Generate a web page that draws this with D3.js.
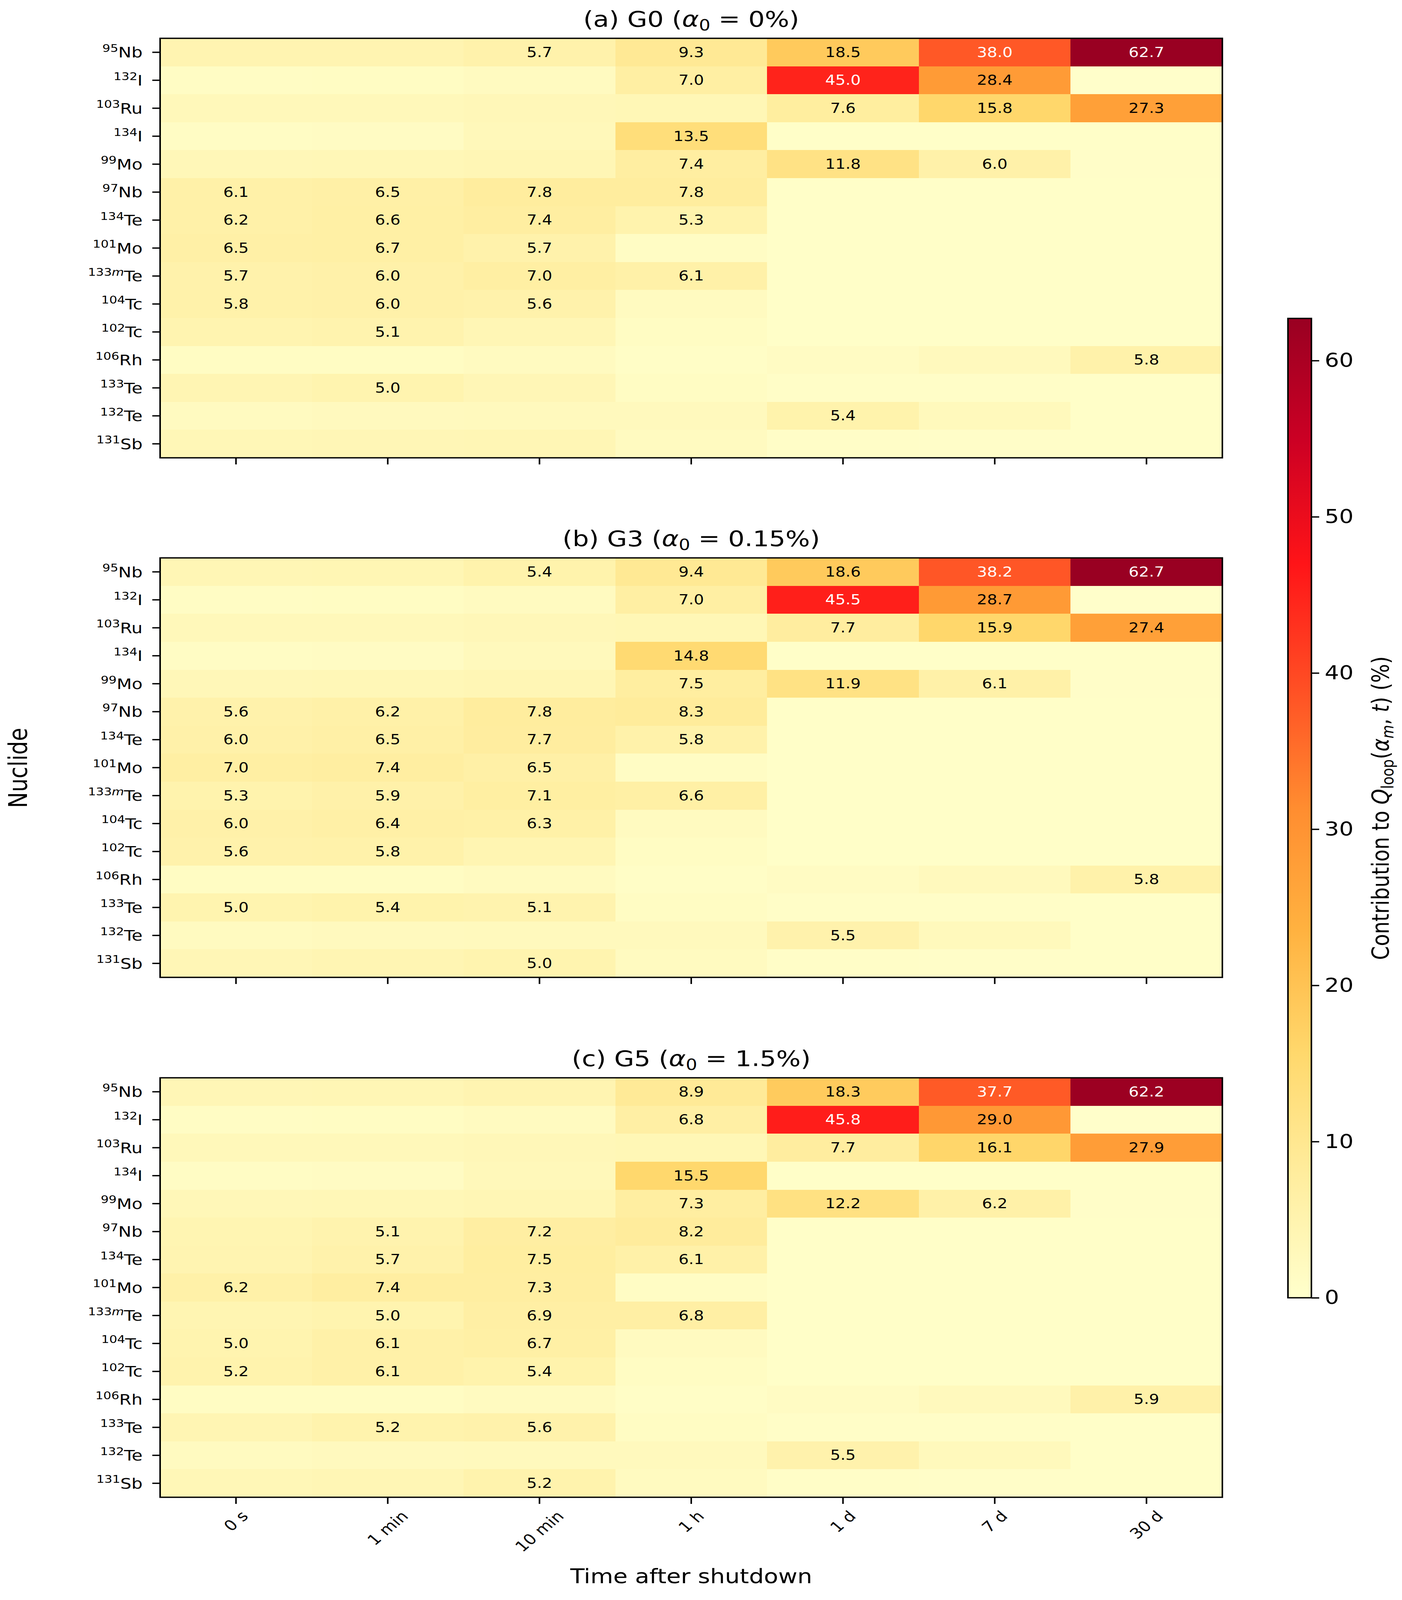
<!DOCTYPE html>
<html>
<head>
<meta charset="utf-8">
<script src="https://cdn.jsdelivr.net/npm/d3@7"></script>
<style>
  html, body { margin: 0; padding: 0; background: #fff; overflow: hidden; }
  svg { display: block; width: 100vw; height: 100vh; }
  text { font-family: 'DejaVu Sans', sans-serif; }
</style>
</head>
<body>
<script>
// chart values ---------------------------------------------------------------
const nuclides = ['95Nb', '132I', '103Ru', '134I', '99Mo', '97Nb', '134Te', '101Mo',
  '133mTe', '104Tc', '102Tc', '106Rh', '133Te', '132Te', '131Sb']
const times = ['0 s', '1 min', '10 min', '1 h', '1 d', '7 d', '30 d']

const valuesG0 = [
  [4.6, 4.6, 5.7, 9.3, 18.5, 38.0, 62.7],
  [1.4, 1.5, 2.0, 7.0, 45.0, 28.4, 0.3],
  [3.0, 3.0, 3.4, 3.7, 7.6, 15.8, 27.3],
  [1.3, 1.6, 3.0, 13.5, 0.6, 0.6, 0.6],
  [3.4, 3.5, 4.0, 7.4, 11.8, 6.0, 0.7],
  [6.1, 6.5, 7.8, 7.8, 0.6, 0.6, 0.6],
  [6.2, 6.6, 7.4, 5.3, 0.6, 0.6, 0.6],
  [6.5, 6.7, 5.7, 1.4, 0.6, 0.6, 0.6],
  [5.7, 6.0, 7.0, 6.1, 0.6, 0.6, 0.6],
  [5.8, 6.0, 5.6, 2.0, 0.6, 0.6, 0.6],
  [4.7, 5.1, 4.0, 1.5, 0.6, 0.6, 0.6],
  [1.5, 1.5, 2.0, 1.0, 1.6, 2.6, 5.8],
  [4.3, 5.0, 3.8, 1.5, 0.8, 0.8, 0.6],
  [2.0, 2.4, 2.6, 2.6, 5.4, 2.8, 0.6],
  [3.6, 3.8, 4.0, 2.0, 0.8, 0.7, 0.6]
]
const valuesG3 = [
  [4.0, 4.1, 5.4, 9.4, 18.6, 38.2, 62.7],
  [1.4, 1.5, 2.0, 7.0, 45.5, 28.7, 0.3],
  [3.0, 3.0, 3.4, 3.7, 7.7, 15.9, 27.4],
  [1.3, 1.6, 2.8, 14.8, 0.6, 0.6, 0.6],
  [3.4, 3.5, 4.0, 7.5, 11.9, 6.1, 0.7],
  [5.6, 6.2, 7.8, 8.3, 0.6, 0.6, 0.6],
  [6.0, 6.5, 7.7, 5.8, 0.6, 0.6, 0.6],
  [7.0, 7.4, 6.5, 1.4, 0.6, 0.6, 0.6],
  [5.3, 5.9, 7.1, 6.6, 0.6, 0.6, 0.6],
  [6.0, 6.4, 6.3, 2.0, 0.6, 0.6, 0.6],
  [5.6, 5.8, 4.4, 1.5, 0.6, 0.6, 0.6],
  [1.5, 1.5, 2.0, 1.0, 1.6, 2.6, 5.8],
  [5.0, 5.4, 5.1, 1.5, 0.8, 0.8, 0.6],
  [2.0, 2.4, 2.6, 2.6, 5.5, 2.8, 0.6],
  [3.8, 4.2, 5.0, 2.0, 0.8, 0.7, 0.6]
]
const valuesG5 = [
  [3.8, 4.0, 4.6, 8.9, 18.3, 37.7, 62.2],
  [1.4, 1.5, 2.0, 6.8, 45.8, 29.0, 0.3],
  [3.0, 3.0, 3.4, 3.7, 7.7, 16.1, 27.9],
  [1.3, 1.6, 3.0, 15.5, 0.6, 0.6, 0.6],
  [3.4, 3.5, 4.0, 7.3, 12.2, 6.2, 0.7],
  [4.5, 5.1, 7.2, 8.2, 0.6, 0.6, 0.6],
  [4.6, 5.7, 7.5, 6.1, 0.6, 0.6, 0.6],
  [6.2, 7.4, 7.3, 1.4, 0.6, 0.6, 0.6],
  [4.4, 5.0, 6.9, 6.8, 0.6, 0.6, 0.6],
  [5.0, 6.1, 6.7, 2.0, 0.6, 0.6, 0.6],
  [5.2, 6.1, 5.4, 1.5, 0.6, 0.6, 0.6],
  [1.5, 1.5, 2.0, 1.0, 1.6, 2.6, 5.9],
  [4.3, 5.2, 5.6, 1.5, 0.8, 0.8, 0.6],
  [2.0, 2.4, 2.6, 2.6, 5.5, 2.8, 0.6],
  [3.6, 4.0, 5.2, 2.0, 0.8, 0.7, 0.6]
]
const panelNames = ['(a) G0', '(b) G3', '(c) G5']
const panelAlpha = ['0%', '0.15%', '1.5%']
const colorbarTicks = [0, 10, 20, 30, 40, 50, 60]

// YlOrRd-like control colours, tuned to the saturation seen in the picture
const ylOrRd = ['#ffffcc', '#ffed9e', '#ffd86c', '#ffb240', '#ff8d30',
  '#ff4e24', '#ff1418', '#cc0024', '#990022']

//-----------------------------------------------------------------------------

// drawn in a 3590x4844 frame, stretched onto whatever viewport the page gets
const width = 3590
const height = 4844
const plotLeft = 410
const plotRight = 3130
const panelTops = [116, 1689, 3263]
const panelHeight = 1270
const tickLen = 20
const lineWidth = 4

const panels = [valuesG0, valuesG3, valuesG5]
const vmax = d3.max(panels.flat(2))

const svg = d3.select('body')
  .append('svg')
  .attr('viewBox', `0 0 ${width} ${height}`)
  .attr('preserveAspectRatio', 'none')
svg.append('rect')
  .attr('width', width)
  .attr('height', height)
  .attr('fill', '#fff')

const x = d3.scaleBand()
  .domain(times)
  .range([plotLeft, plotRight])
const color = d3.scaleLinear()
  .domain(ylOrRd.map((c, i) => i * vmax / (ylOrRd.length - 1)))
  .range(ylOrRd)

function nuclideLabel (text, label) {
  const [, mass, meta, symbol] = label.match(/^(\d+)(m?)(\D+)$/)
  text.append('tspan').attr('font-size', 32).attr('dy', -17).text(mass)
  if (meta) {
    text.append('tspan').attr('font-size', 32).attr('font-style', 'italic').text(meta)
  }
  text.append('tspan').attr('dy', 17).text(symbol)
}

function drawPanel (values, p) {
  const top = panelTops[p]
  const bottom = top + panelHeight
  const y = d3.scaleBand()
    .domain(nuclides)
    .range([top, bottom])
  const cells = nuclides.flatMap((n, i) =>
    times.map((t, j) => ({ n, t, v: values[i][j] })))
  const g = svg.append('g')

  g.selectAll('rect.cell')
    .data(cells)
    .enter()
    .append('rect')
    .attr('class', 'cell')
    .attr('x', d => x(d.t))
    .attr('y', d => y(d.n))
    .attr('width', x.bandwidth())
    .attr('height', y.bandwidth())
    .attr('fill', d => color(d.v))
    .attr('shape-rendering', 'crispEdges')

  g.selectAll('text.val')
    .data(cells.filter(d => d.v >= 4.95))
    .enter()
    .append('text')
    .attr('class', 'val')
    .attr('x', d => x(d.t) + x.bandwidth() / 2)
    .attr('y', d => y(d.n) + y.bandwidth() / 2)
    .attr('text-anchor', 'middle')
    .attr('dominant-baseline', 'central')
    .attr('font-size', 41)
    .attr('fill', d => d.v > vmax / 2 ? '#fff' : '#000')
    .text(d => d.v.toFixed(1))

  g.append('rect')
    .attr('x', plotLeft)
    .attr('y', top)
    .attr('width', plotRight - plotLeft)
    .attr('height', panelHeight)
    .attr('fill', 'none')
    .attr('stroke', '#000')
    .attr('stroke-width', lineWidth)

  const yAxis = g.append('g')
    .attr('transform', `translate(${plotLeft},0)`)
    .call(d3.axisLeft(y).tickSize(tickLen).tickPadding(25))
  yAxis.select('.domain').remove()
  yAxis.selectAll('.tick line').attr('stroke-width', lineWidth)
  yAxis.selectAll('.tick text')
    .text(null)
    .attr('dy', null)
    .attr('y', 16)
    .attr('font-size', 45)
    .attr('fill', '#000')
    .each(function (d) { nuclideLabel(d3.select(this), d) })

  const xAxis = g.append('g')
    .attr('transform', `translate(0,${bottom})`)
    .call(d3.axisBottom(x).tickSize(tickLen).tickFormat(''))
  xAxis.select('.domain').remove()
  xAxis.selectAll('.tick line').attr('stroke-width', lineWidth)
  xAxis.selectAll('.tick text').remove()

  if (p === panels.length - 1) {
    times.forEach(t => {
      const label = g.append('text')
        .attr('font-size', 44)
        .attr('text-anchor', 'middle')
        .attr('dominant-baseline', 'central')
        .text(t)
      const w = label.node().getComputedTextLength()
      const cy = bottom + tickLen + 12 + (w + 48) / (2 * Math.SQRT2)
      label.attr('transform',
        `translate(${x(t) + x.bandwidth() / 2},${cy}) rotate(-45)`)
    })
  }

  const title = g.append('text')
    .attr('x', (plotLeft + plotRight) / 2)
    .attr('y', top - 36)
    .attr('text-anchor', 'middle')
    .attr('font-size', 66)
  title.append('tspan').text(panelNames[p] + ' (')
  title.append('tspan').attr('font-style', 'italic').text('α')
  title.append('tspan').attr('font-size', 46).attr('dy', 12).text('0')
  title.append('tspan').attr('dy', -12).text(' = ' + panelAlpha[p] + ')')
}

panels.forEach(drawPanel)

// colorbar --------------------------------------------------------------------
const cbLeft = 3298
const cbWidth = 60
const cbY = d3.scaleLinear()
  .domain([0, vmax])
  .range([3929, 964])

const grad = svg.append('defs')
  .append('linearGradient')
  .attr('id', 'cbGrad')
  .attr('x1', 0).attr('y1', 1)
  .attr('x2', 0).attr('y2', 0)
grad.selectAll('stop')
  .data(ylOrRd)
  .enter()
  .append('stop')
  .attr('offset', (c, i) => i / (ylOrRd.length - 1))
  .attr('stop-color', c => c)

svg.append('rect')
  .attr('x', cbLeft)
  .attr('y', cbY(vmax))
  .attr('width', cbWidth)
  .attr('height', cbY(0) - cbY(vmax))
  .attr('fill', 'url(#cbGrad)')
  .attr('stroke', '#000')
  .attr('stroke-width', lineWidth)

const cbAxis = svg.append('g')
  .attr('transform', `translate(${cbLeft + cbWidth},0)`)
  .call(d3.axisRight(cbY).tickValues(colorbarTicks).tickSize(tickLen).tickPadding(14))
cbAxis.select('.domain').remove()
cbAxis.selectAll('.tick line').attr('stroke-width', lineWidth)
cbAxis.selectAll('.tick text').attr('font-size', 58).attr('fill', '#000')

const cbLabel = svg.append('text')
  .attr('transform', `translate(3535,${(cbY(0) + cbY(vmax)) / 2}) rotate(-90)`)
  .attr('text-anchor', 'middle')
  .attr('y', 21)
  .attr('font-size', 60)
cbLabel.append('tspan').text('Contribution to ')
cbLabel.append('tspan').attr('font-style', 'italic').text('Q')
cbLabel.append('tspan').attr('font-size', 42).attr('dy', 12).text('loop')
cbLabel.append('tspan').attr('dy', -12).text('(')
cbLabel.append('tspan').attr('font-style', 'italic').text('α')
cbLabel.append('tspan').attr('font-size', 42).attr('font-style', 'italic').attr('dy', 12).text('m')
cbLabel.append('tspan').attr('dy', -12).text(', ')
cbLabel.append('tspan').attr('font-style', 'italic').text('t')
cbLabel.append('tspan').text(') (%)')

// axis titles -------------------------------------------------------------------
svg.append('text')
  .attr('transform', 'translate(46,2325) rotate(-90)')
  .attr('text-anchor', 'middle')
  .attr('dominant-baseline', 'central')
  .attr('font-size', 65)
  .text('Nuclide')

svg.append('text')
  .attr('x', (plotLeft + plotRight) / 2)
  .attr('y', 4793)
  .attr('text-anchor', 'middle')
  .attr('font-size', 60)
  .text('Time after shutdown')
</script>
</body>
</html>
